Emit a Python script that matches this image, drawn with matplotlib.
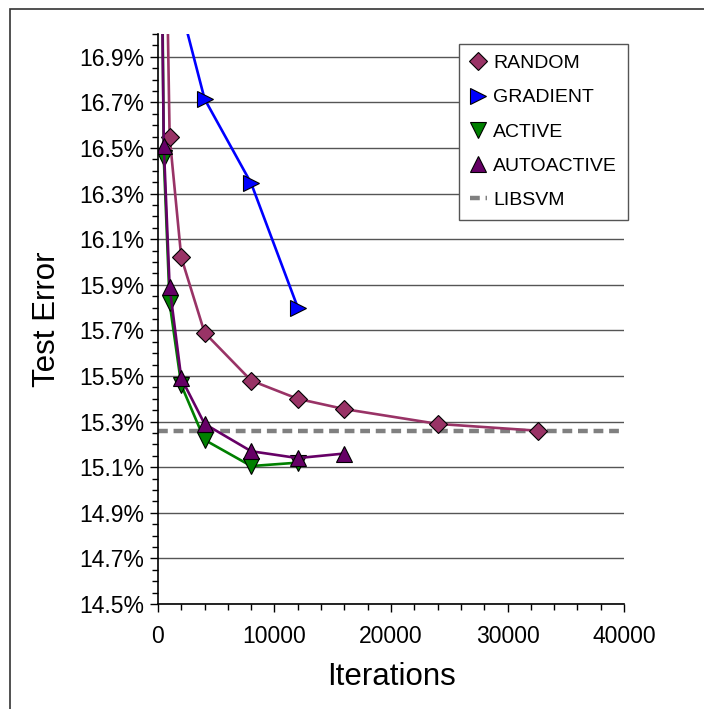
import matplotlib
matplotlib.use("Agg")
import matplotlib.pyplot as plt
from matplotlib.patches import Rectangle
from matplotlib.ticker import MultipleLocator, FuncFormatter

# data
random_iters = [500, 1000, 2000, 4000, 8000, 12000, 16000, 24000, 32600]
random_err = [18.1, 16.55, 16.02, 15.69, 15.48, 15.40, 15.355, 15.29, 15.26]

gradient_iters = [2000, 4000, 8000, 12000]
gradient_err = [17.11, 16.715, 16.345, 15.80]

active_iters = [250, 500, 1000, 2000, 4000, 8000, 12000]
active_err = [17.9, 16.455, 15.82, 15.46, 15.22, 15.105, 15.12]

autoactive_iters = [250, 500, 1000, 2000, 4000, 8000, 12000, 16000]
autoactive_err = [17.6, 16.51, 15.89, 15.49, 15.29, 15.17, 15.14, 15.16]

libsvm_err = 15.26

plt.rcParams['font.family'] = ['Liberation Sans', 'DejaVu Sans']


def main():
    fig = plt.figure(figsize=(7.04, 7.09), dpi=100)
    ax = fig.add_axes([0.2244, 0.1481, 0.662, 0.8039])

    # outer frame
    fig.patches.append(Rectangle((9.5 / 704, -0.05), 1.0, 1 - 8.5 / 709 + 0.05,
                                 transform=fig.transFigure, fill=False,
                                 edgecolor='#333333', linewidth=1.2))

    # horizontal grid at major ticks
    ax.yaxis.grid(True, which='major', color='#555555', linewidth=1.0)
    ax.set_axisbelow(True)

    ax.axhline(libsvm_err, color='#808080', linewidth=3.2, dashes=(2.2, 1.3),
               label='LIBSVM', zorder=1.5)

    mk = dict(markersize=11, markeredgecolor='black', markeredgewidth=0.8,
              linewidth=1.9, clip_on=True)
    ax.plot(random_iters, random_err, marker='D', color='#993366',
            label='RANDOM', **dict(mk, markersize=9.5))
    ax.plot(gradient_iters, gradient_err, marker='>', color='#0000ff',
            label='GRADIENT', **mk)
    ax.plot(active_iters, active_err, marker='v', color='#008000',
            label='ACTIVE', **mk)
    ax.plot(autoactive_iters, autoactive_err, marker='^', color='#660066',
            label='AUTOACTIVE', **mk)

    # axes
    ax.set_xlim(0, 40000)
    ax.set_ylim(14.5, 17.0)
    ax.set_yticks([14.5 + 0.2 * i for i in range(13)])
    ax.yaxis.set_minor_locator(MultipleLocator(0.05))
    ax.xaxis.set_major_locator(MultipleLocator(10000))
    ax.xaxis.set_minor_locator(MultipleLocator(2000))
    ax.yaxis.set_major_formatter(FuncFormatter(lambda v, p: '%.1f%%' % v))

    ax.spines['top'].set_visible(False)
    ax.spines['right'].set_visible(False)
    ax.spines['left'].set_linewidth(1.2)
    ax.spines['bottom'].set_linewidth(1.2)
    ax.tick_params(axis='both', which='major', direction='out', length=6,
                   width=1.0, labelsize=16.5, pad=4)
    ax.tick_params(axis='x', which='major', pad=9)
    ax.tick_params(axis='both', which='minor', direction='out', length=4,
                   width=1.0)

    ax.set_xlabel('Iterations', fontsize=22.5, labelpad=10)
    ax.set_ylabel('Test Error', fontsize=22.5, labelpad=12)

    # legend (LIBSVM listed last)
    handles, labels = ax.get_legend_handles_labels()
    order = [1, 2, 3, 4, 0]
    leg = ax.legend([handles[i] for i in order], [labels[i] for i in order],
                    loc='upper left', bbox_to_anchor=(459 / 704, 1 - 44 / 709),
                    bbox_transform=fig.transFigure, fontsize=14,
                    frameon=True, fancybox=False, framealpha=1,
                    edgecolor='#555555', handlelength=0.9, handletextpad=0.3,
                    labelspacing=0.85, borderpad=0.55, borderaxespad=0)
    for line in leg.get_lines():
        if line.get_label() != 'LIBSVM':
            line.set_linestyle('none')
    leg.get_frame().set_linewidth(1.0)

    fig.savefig('out.png', dpi=100)


if __name__ == "__main__":
    main()
